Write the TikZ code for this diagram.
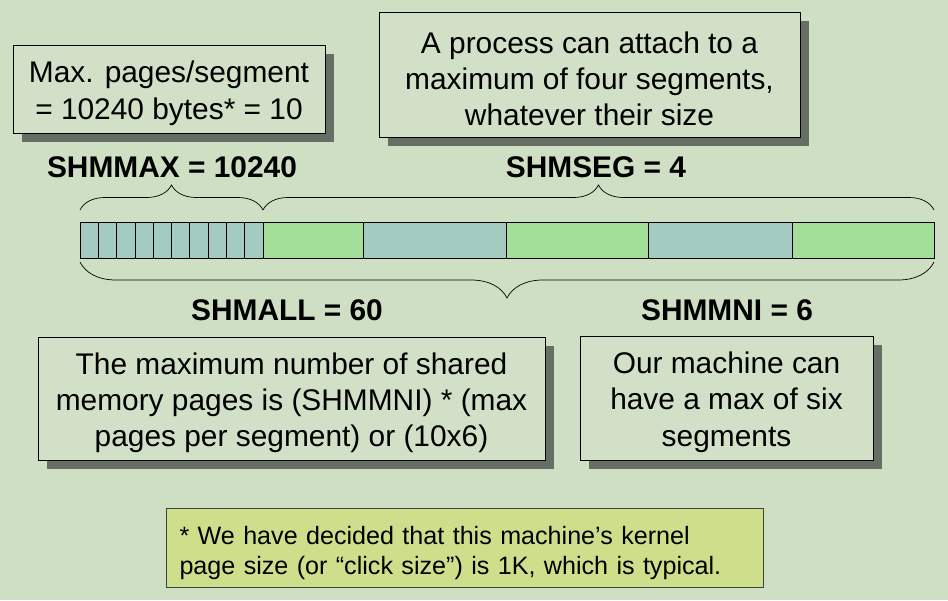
\documentclass[tikz,border=0pt]{standalone}
\usepackage{fontspec}
\setmainfont{Liberation Sans}
\usetikzlibrary{shadows,decorations.pathreplacing}
\definecolor{shmback}{HTML}{CFDFC3}
\definecolor{shmbox}{HTML}{D1E0C6}
\definecolor{shmshadow}{HTML}{676F64}
\definecolor{shmteal}{HTML}{A3CBBF}
\definecolor{shmgreen}{HTML}{A3DF99}
\definecolor{shmnote}{HTML}{CEDF8B}
\newcommand{\shmtop}{\rule{0pt}{0.6cm}}

\tikzset{
  notebox/.style={draw=black, fill=shmbox, align=center, inner sep=0pt,
    font=\fontsize{17}{20.6}\selectfont,
    drop shadow={shadow xshift=0.17cm, shadow yshift=-0.17cm, fill=shmshadow, opacity=1}},
  shmlabel/.style={font=\fontsize{17}{20}\selectfont\bfseries},
  shmbrace/.style={decorate, decoration={brace, amplitude=#1}, thin}
}

\begin{document}
\begin{tikzpicture}
            \fill[shmback] (0,0) rectangle (18.96,-12);

            % the notes
            \node[notebox, minimum width=6.24cm, minimum height=1.76cm] (maxpages) at (3.38,-1.78)
                {\shmtop Max. pages/segment\\= 10240 bytes* = 10};
            \node[notebox, minimum width=8.42cm, minimum height=2.5cm] (attach) at (11.79,-1.49)
                {\shmtop A process can attach to a\\maximum of four segments,\\whatever their size};
            \node[notebox, minimum width=10.14cm, minimum height=2.46cm] (maxnumber) at (5.83,-7.97)
                {\shmtop The maximum number of shared\\memory pages is (SHMMNI) * (max\\pages per segment) or (10x6)};
            \node[notebox, minimum width=5.86cm, minimum height=2.48cm] (ourmachine) at (14.53,-7.96)
                {\shmtop Our machine can\\have a max of six\\segments};

            % the segments
            \coordinate (barL) at (1.6,-4.44);
            \coordinate (segA) at (5.26,-4.44);
            \coordinate (barR) at (18.68,-4.44);
            \fill[shmteal] (1.6,-4.44) rectangle (5.26,-5.16);
            \foreach \x in {1,...,9}
                \draw (1.6+0.366*\x,-4.44) -- (1.6+0.366*\x,-5.16);
            \draw[fill=shmgreen] (5.26,-4.44) rectangle (7.26,-5.16);
            \draw[fill=shmteal] (7.26,-4.44) rectangle (10.12,-5.16);
            \draw[fill=shmgreen] (10.12,-4.44) rectangle (12.96,-5.16);
            \draw[fill=shmteal] (12.96,-4.44) rectangle (15.84,-5.16);
            \draw[fill=shmgreen] (15.84,-4.44) rectangle (18.68,-5.16);
            \draw (1.6,-4.44) rectangle (18.68,-5.16);

            % braces
            \draw[shmbrace=0.5cm] ([yshift=0.24cm]barL) -- ([yshift=0.24cm]segA);
            \draw[shmbrace=0.5cm] ([yshift=0.24cm]segA) -- ([yshift=0.24cm]barR);
            \draw[shmbrace=0.72cm] ([yshift=-0.8cm]barR) -- ([yshift=-0.8cm]barL);

            \node[shmlabel] (shmmax) at (3.44,-3.34) {SHMMAX = 10240};
            \node[shmlabel] (shmseg) at (11.92,-3.34) {SHMSEG = 4};
            \node[shmlabel] (shmall) at (5.74,-6.2) {SHMALL = 60};
            \node[shmlabel] (shmmni) at (14.54,-6.2) {SHMMNI = 6};

            % footnote
            \node[draw=black!75, fill=shmnote, minimum width=11.94cm, minimum height=1.58cm,
                  text width=11.4cm, align=left, inner sep=0pt,
                  font=\fontsize{14.3}{17.2}\selectfont] (clicksize) at (9.29,-10.95)
                {\rule{0pt}{0.58cm}* We have decided that this machine’s kernel\\page size (or “click size”) is 1K, which is typical.};
        \end{tikzpicture}
\end{document}
